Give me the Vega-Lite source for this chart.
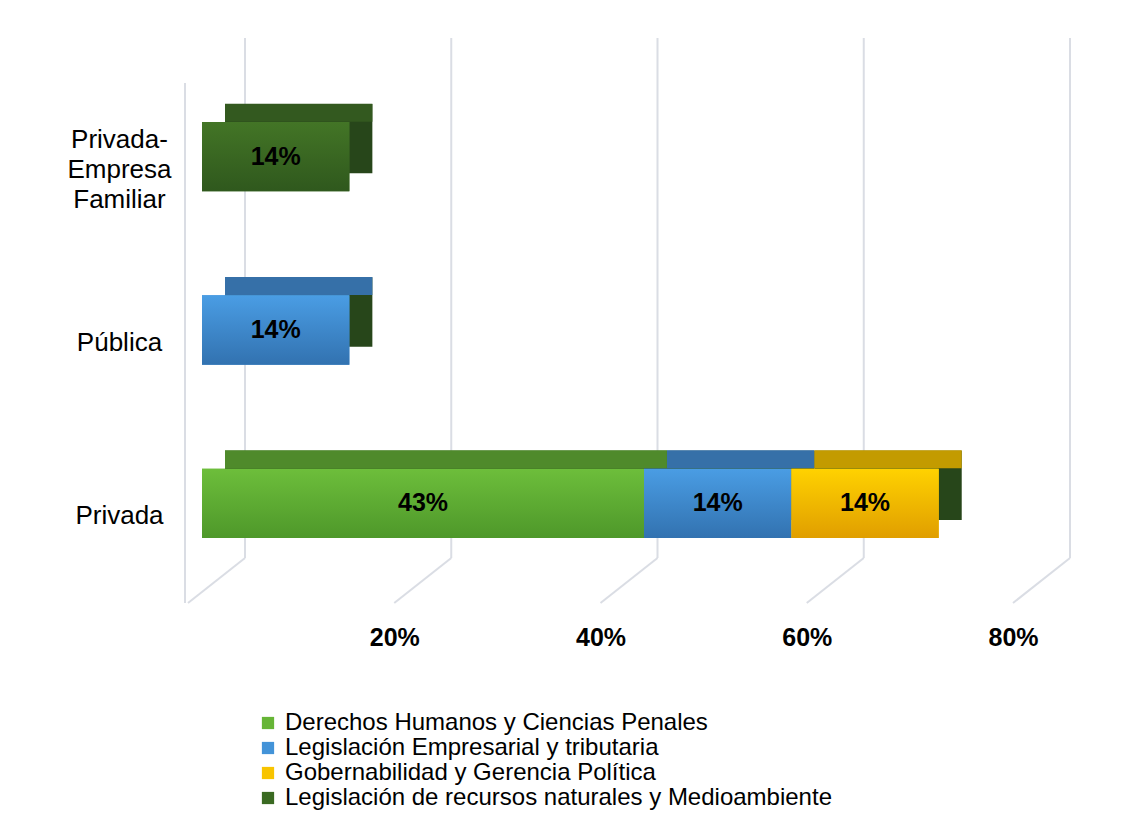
{
  "$schema": "https://vega.github.io/schema/vega-lite/v6.json",
  "width": 825,
  "height": 520,
  "autosize": {"type": "none"},
  "padding": {"left": 188, "top": 83, "right": 121, "bottom": 234},
  "background": "white",
  "config": {"view": {"stroke": null}, "font": "Liberation Sans"},
  "datasets": {
    "bars": [
      {"cat": "Privada", "s": "Derechos Humanos y Ciencias Penales", "v": 0.4286, "o": 1},
      {"cat": "Privada", "s": "Legislación Empresarial y tributaria", "v": 0.1429, "o": 2},
      {"cat": "Privada", "s": "Gobernabilidad y Gerencia Política", "v": 0.1429, "o": 3},
      {"cat": "Pública", "s": "Legislación Empresarial y tributaria", "v": 0.1429, "o": 2},
      {"cat": "Privada-Empresa Familiar", "s": "Legislación de recursos naturales y Medioambiente", "v": 0.1429, "o": 4}
    ],
    "grid": [{"g": 0}, {"g": 0.2}, {"g": 0.4}, {"g": 0.6}, {"g": 0.8}]
  },
  "resolve": {"scale": {"y": "independent"}, "axis": {"y": "independent"}},
  "layer": [
    {
      "data": {"name": "grid"},
      "layer": [
        {
          "mark": {"type": "rule", "color": "#dadde4", "strokeWidth": 2, "xOffset": 57, "yOffset": -45, "y2Offset": -45},
          "encoding": {
            "x": {"field": "g", "type": "quantitative", "scale": {"domain": [0, 0.8]}, "axis": {"values": [0.2, 0.4, 0.6, 0.8], "format": ".0%", "title": null, "domain": false, "ticks": false, "tickSize": 0, "grid": false, "labelFlush": false, "labelFontSize": 25, "labelFontWeight": "bold", "labelColor": "#000", "labelPadding": 22, "labelFont": "Liberation Sans"}},
            "y": {"datum": 0, "type": "quantitative", "scale": {"domain": [0, 1]}, "axis": null},
            "y2": {"datum": 1}
          }
        },
        {
          "mark": {"type": "rule", "color": "#dadde4", "strokeWidth": 2, "x2Offset": 57, "y2Offset": -45},
          "encoding": {
            "x": {"field": "g", "type": "quantitative"},
            "x2": {"field": "g"},
            "y": {"datum": 0, "type": "quantitative"},
            "y2": {"datum": 0}
          }
        },
        {
          "data": {"values": [{"g": 0}]},
          "mark": {"type": "rule", "color": "#dadde4", "strokeWidth": 2, "xOffset": -3},
          "encoding": {
            "x": {"field": "g", "type": "quantitative"},
            "y": {"datum": 0, "type": "quantitative"},
            "y2": {"datum": 1}
          }
        }
      ]
    },
    {
      "data": {"name": "bars"},
      "transform": [
        {"stack": "v", "groupby": ["cat"], "sort": [{"field": "o", "order": "ascending"}], "as": ["v0", "v1"]},
        {"calculate": "(datum.v0 + datum.v1) / 2", "as": "vm"}
      ],
      "encoding": {
        "y": {
          "field": "cat", "type": "nominal",
          "sort": ["Privada-Empresa Familiar", "Pública", "Privada"],
          "scale": {"paddingInner": 0.6, "paddingOuter": 0.3},
          "axis": {"orient": "left", "title": null, "domain": false, "ticks": false, "tickSize": 0, "grid": false, "labelAlign": "center", "labelPadding": 69, "labelFontSize": 26, "labelColor": "#000", "labelLineHeight": 30, "labelBaseline": "middle", "labelFont": "Liberation Sans",
            "labelOffset": {"condition": {"test": "datum.value == 'Privada-Empresa Familiar'", "value": -30}, "value": 0},
            "labelExpr": "datum.value == 'Privada-Empresa Familiar' ? ['Privada-', 'Empresa', 'Familiar'] : datum.value"}
        }
      },
      "layer": [
        {
          "mark": {"type": "bar", "color": "#27461a", "xOffset": 37, "x2Offset": 37, "yOffset": -31},
          "encoding": {
            "x": {"field": "v0", "type": "quantitative"},
            "x2": {"field": "v1"}
          }
        },
        {
          "mark": {"type": "bar", "size": 18, "xOffset": 37, "x2Offset": 37, "yOffset": -57},
          "encoding": {
            "x": {"field": "v0", "type": "quantitative"},
            "x2": {"field": "v1"},
            "fill": {
              "condition": [
                {"test": "datum.s === 'Derechos Humanos y Ciencias Penales'", "value": "#4f8a2b"},
                {"test": "datum.s === 'Legislación Empresarial y tributaria'", "value": "#3670a8"},
                {"test": "datum.s === 'Gobernabilidad y Gerencia Política'", "value": "#c39b00"}
              ],
              "value": "#33591f"
            }
          }
        },
        {
          "mark": {"type": "bar", "xOffset": 14, "x2Offset": 14, "yOffset": -13},
          "encoding": {
            "x": {"field": "v0", "type": "quantitative"},
            "x2": {"field": "v1"},
            "color": {"field": "s", "type": "nominal",
              "scale": {"domain": ["Derechos Humanos y Ciencias Penales", "Legislación Empresarial y tributaria", "Gobernabilidad y Gerencia Política", "Legislación de recursos naturales y Medioambiente"],
                "range": ["#66b536", "#4393d8", "#f8c400", "#3a6a22"]},
              "legend": {"orient": "none", "legendX": 68, "legendY": 628, "direction": "vertical", "title": null, "symbolType": "square", "symbolSize": 150, "symbolStrokeWidth": 0, "labelFontSize": 24, "labelFont": "Liberation Sans", "labelColor": "#000", "labelLimit": 900, "rowPadding": 1, "labelOffset": 5}}
          }
        },
        {
          "mark": {"type": "bar", "xOffset": 14, "x2Offset": 14, "yOffset": -13},
          "encoding": {
            "x": {"field": "v0", "type": "quantitative"},
            "x2": {"field": "v1"},
            "fill": {
              "condition": [
                {"test": "datum.s === 'Derechos Humanos y Ciencias Penales'", "value": {"gradient": "linear", "x1": 0, "y1": 0, "x2": 0, "y2": 1, "stops": [{"offset": 0, "color": "#6dbe3b"}, {"offset": 1, "color": "#4e982a"}]}},
                {"test": "datum.s === 'Legislación Empresarial y tributaria'", "value": {"gradient": "linear", "x1": 0, "y1": 0, "x2": 0, "y2": 1, "stops": [{"offset": 0, "color": "#4a9de4"}, {"offset": 1, "color": "#3272b0"}]}},
                {"test": "datum.s === 'Gobernabilidad y Gerencia Política'", "value": {"gradient": "linear", "x1": 0, "y1": 0, "x2": 0, "y2": 1, "stops": [{"offset": 0, "color": "#ffd200"}, {"offset": 1, "color": "#e09e00"}]}}
              ],
              "value": {"gradient": "linear", "x1": 0, "y1": 0, "x2": 0, "y2": 1, "stops": [{"offset": 0, "color": "#437526"}, {"offset": 1, "color": "#2f581d"}]}
            }
          }
        },
        {
          "mark": {"type": "text", "xOffset": 14, "yOffset": -13, "fontSize": 25, "fontWeight": "bold", "color": "#000", "font": "Liberation Sans", "baseline": "middle", "align": "center"},
          "encoding": {
            "x": {"field": "vm", "type": "quantitative"},
            "text": {"field": "v", "type": "quantitative", "format": ".0%"}
          }
        }
      ]
    }
  ]
}
